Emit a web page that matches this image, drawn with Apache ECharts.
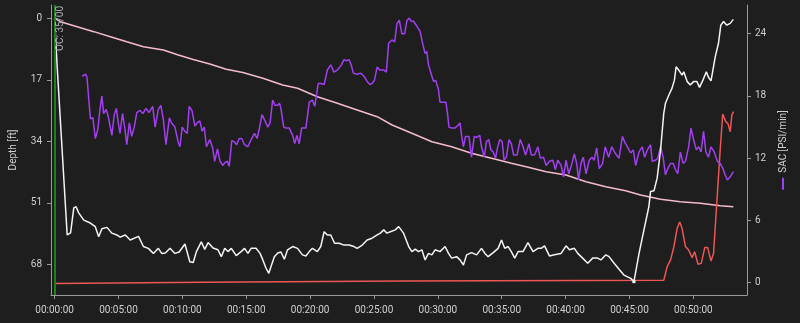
<!DOCTYPE html>
<html>
<head>
<meta charset="utf-8">
<script src="https://cdn.jsdelivr.net/npm/echarts@6/dist/echarts.min.js"></script>
<style>
html,body{margin:0;padding:0;background:#1e1e1e;}
#chart{width:800px;height:323px;}
</style>
</head>
<body>
<div id="chart"></div>
<script>
// ---- data (time in seconds) ----
const timeTicks = [0, 300, 600, 900, 1200, 1500, 1800, 2100, 2400, 2700, 3000];
const depthTicks = [0, 17, 34, 51, 68];
const sacTicks = [0, 6, 12, 18, 24];
const depthName = 'Depth [ft]';
const sacName = 'SAC [PSI/min]';
const eventTime = 0;
const eventLabel = 'OC: 35/00';

// depth profile [time s, depth ft]
const depthProfile = [[0,0.0],[12,13.4],[59,59.9],[75,59.3],[90,52.4],[101,52.1],[113,53.8],[137,55.8],[168,56.6],[191,57.6],[207,60.4],[222,58.2],[246,57.8],[269,59.4],[292,59.9],[308,60.5],[332,59.9],[355,61.3],[394,60.3],[417,63.1],[440,63.6],[464,65.0],[487,63.6],[503,65.0],[520,64.9],[542,63.6],[565,65.0],[585,64.6],[612,62.4],[635,67.3],[651,67.5],[666,64.5],[689,61.8],[705,63.9],[721,62.0],[744,63.5],[767,64.0],[783,65.9],[799,63.6],[814,64.5],[830,63.6],[853,65.6],[876,64.5],[892,63.6],[908,65.0],[923,63.6],[946,63.6],[965,65.0],[978,66.8],[993,69.1],[1006,70.5],[1016,68.7],[1032,65.9],[1048,64.9],[1063,64.6],[1079,66.6],[1094,64.0],[1118,63.1],[1141,63.6],[1164,65.4],[1180,65.7],[1196,64.5],[1211,63.6],[1234,64.5],[1250,63.1],[1266,59.0],[1281,59.9],[1297,59.9],[1315,62.2],[1336,62.2],[1359,62.7],[1383,62.7],[1406,63.1],[1421,63.6],[1445,62.7],[1468,61.3],[1491,60.8],[1515,59.9],[1530,59.4],[1546,58.5],[1561,59.4],[1577,59.0],[1600,58.5],[1616,57.6],[1639,59.4],[1663,63.1],[1678,64.5],[1694,63.8],[1709,64.5],[1725,64.0],[1740,66.8],[1756,65.0],[1772,65.4],[1787,64.0],[1810,64.5],[1834,63.1],[1850,65.0],[1865,66.3],[1888,65.9],[1904,66.8],[1920,68.2],[1935,65.4],[1958,64.8],[1982,65.4],[2005,63.6],[2021,65.0],[2036,65.9],[2060,64.8],[2083,63.6],[2099,61.3],[2114,63.6],[2130,63.1],[2145,64.5],[2161,66.3],[2177,64.5],[2200,64.5],[2223,62.0],[2247,64.5],[2270,63.6],[2285,63.6],[2301,62.9],[2324,65.7],[2347,65.4],[2379,65.0],[2402,62.9],[2418,64.0],[2441,63.6],[2457,65.0],[2480,66.3],[2504,67.7],[2527,66.3],[2550,66.3],[2566,66.8],[2589,65.4],[2604,65.9],[2628,67.7],[2651,69.4],[2674,71.0],[2706,71.9],[2721,72.8],[2745,65.0],[2768,58.5],[2791,52.1],[2799,47.9],[2815,47.7],[2830,44.2],[2846,36.4],[2861,26.3],[2869,23.5],[2885,21.2],[2900,19.3],[2911,17.1],[2919,13.4],[2931,14.3],[2947,15.7],[2955,14.8],[2971,17.5],[2986,18.4],[3001,17.5],[3017,17.5],[3029,19.1],[3045,17.1],[3061,14.8],[3071,16.3],[3083,17.3],[3103,10.6],[3118,6.9],[3129,1.9],[3142,0.9],[3157,1.9],[3173,1.4],[3188,0.3]];

// tank pressure [time s, PSI] (hidden scale)
const pressure = [[0,3000],[28,2963],[106,2909],[184,2855],[262,2800],[339,2746],[417,2692],[511,2656],[581,2602],[651,2553],[729,2505],[806,2447],[884,2412],[978,2349],[1071,2277],[1141,2241],[1234,2150],[1328,2078],[1421,2006],[1515,1933],[1585,1843],[1678,1753],[1772,1662],[1865,1608],[1958,1536],[2052,1482],[2145,1428],[2215,1391],[2309,1337],[2402,1301],[2496,1228],[2589,1174],[2682,1131],[2752,1084],[2846,1038],[2939,1012],[3033,994],[3126,968],[3188,957]];

// secondary red trace [time s, value] (hidden scale 0-100)
const secondary = [[0,4.0],[697,4.4],[1631,4.8],[2861,5.1],[2877,9.8],[2893,12.1],[2908,16.4],[2924,23.0],[2936,25.2],[2947,23.0],[2963,16.7],[2978,15.5],[2994,12.9],[3006,14.9],[3022,10.6],[3037,10.9],[3054,16.4],[3067,16.4],[3083,11.7],[3095,14.4],[3111,32.8],[3126,50.0],[3138,62.4],[3152,59.8],[3163,59.0],[3173,56.3],[3181,62.1],[3189,63.2]];

// SAC [time s, PSI/min]
const sac = [[129,19.9],[145,20.1],[152,19.8],[168,15.8],[180,15.9],[191,13.9],[203,14.8],[213,16.7],[222,18.0],[230,16.3],[242,16.7],[251,16.1],[269,14.2],[280,16.2],[290,16.8],[299,15.4],[307,14.4],[319,16.3],[329,15.0],[339,13.3],[351,15.4],[362,14.1],[374,15.0],[386,16.4],[401,16.6],[415,16.3],[429,16.8],[443,16.4],[461,17.0],[472,15.0],[487,16.7],[499,17.1],[511,15.7],[523,13.3],[539,15.9],[549,15.4],[565,15.0],[581,13.5],[589,13.1],[599,15.0],[611,14.6],[623,14.4],[632,17.0],[645,16.6],[659,15.1],[669,15.4],[682,15.6],[693,14.6],[703,15.0],[713,13.1],[729,13.8],[742,13.0],[752,11.7],[765,12.9],[777,11.7],[791,11.3],[800,11.6],[812,11.7],[820,11.2],[832,13.7],[843,13.6],[855,13.3],[867,13.9],[879,13.9],[892,13.3],[908,13.1],[923,13.8],[939,14.4],[951,13.9],[962,14.9],[974,16.2],[986,15.7],[1001,15.0],[1012,15.4],[1024,17.6],[1035,17.1],[1048,17.1],[1056,17.3],[1063,16.8],[1076,15.0],[1086,14.9],[1102,14.9],[1118,14.2],[1128,13.4],[1138,14.2],[1149,13.4],[1160,14.9],[1180,14.9],[1196,17.4],[1211,17.6],[1222,17.0],[1238,19.2],[1250,19.2],[1266,19.1],[1281,20.5],[1297,21.0],[1312,20.3],[1328,20.5],[1347,21.0],[1359,21.5],[1371,21.4],[1383,21.5],[1393,21.0],[1403,20.2],[1421,20.1],[1437,20.2],[1453,19.9],[1468,19.4],[1481,19.1],[1491,19.2],[1502,19.5],[1515,20.8],[1527,20.5],[1546,20.5],[1558,20.3],[1569,23.1],[1585,23.4],[1597,23.2],[1608,25.0],[1619,25.3],[1631,24.0],[1644,24.0],[1655,25.3],[1666,25.5],[1675,25.2],[1686,25.2],[1702,24.7],[1717,24.2],[1728,23.1],[1740,22.1],[1748,22.3],[1756,21.0],[1772,19.9],[1780,19.4],[1790,19.5],[1803,18.6],[1810,17.4],[1822,17.4],[1831,17.3],[1838,17.4],[1846,16.2],[1852,15.0],[1865,14.9],[1880,14.9],[1896,15.2],[1904,15.4],[1912,14.1],[1920,13.1],[1930,14.1],[1946,14.1],[1958,12.1],[1971,14.1],[1982,14.0],[1997,14.2],[2005,13.1],[2018,12.1],[2028,13.6],[2039,13.8],[2049,12.8],[2060,12.6],[2071,12.0],[2080,13.0],[2091,13.8],[2102,13.6],[2111,11.8],[2122,12.1],[2134,13.8],[2145,13.4],[2156,12.3],[2172,12.3],[2187,13.8],[2200,13.1],[2212,12.3],[2228,13.4],[2239,12.3],[2254,12.3],[2270,13.1],[2281,12.0],[2296,12.1],[2309,11.3],[2324,11.7],[2340,11.8],[2352,10.9],[2363,11.8],[2379,11.3],[2390,10.2],[2402,11.8],[2415,10.5],[2430,11.5],[2441,12.4],[2452,11.5],[2461,9.9],[2472,11.5],[2483,12.1],[2496,10.5],[2511,11.8],[2524,12.1],[2534,11.8],[2546,13.0],[2558,11.0],[2574,11.5],[2586,13.1],[2602,12.1],[2617,13.1],[2632,12.5],[2651,12.0],[2667,14.1],[2679,13.5],[2693,13.0],[2706,12.5],[2718,12.8],[2729,11.3],[2745,12.6],[2760,13.1],[2771,12.1],[2784,12.8],[2799,13.3],[2807,11.7],[2822,11.8],[2833,12.0],[2846,13.1],[2858,12.1],[2869,10.4],[2880,11.0],[2893,11.5],[2905,11.5],[2916,10.9],[2927,10.5],[2939,12.6],[2952,11.5],[2963,11.7],[2978,13.1],[2989,14.9],[3001,13.8],[3014,12.8],[3025,13.1],[3036,12.6],[3048,14.6],[3059,12.6],[3071,12.1],[3083,13.1],[3098,12.6],[3113,11.7],[3126,11.5],[3139,11.0],[3149,10.4],[3160,9.9],[3173,10.2],[3188,10.7]];

// ---- chart ----
const FONT = 'Roboto';
const AXIS_COLOR = '#9a9a9a';
const LABEL_COLOR = '#d0d0d0';
const SAC_COLOR = '#a23ff2';

function hms(v) {
  const s = Math.round(v);
  const h = Math.floor(s / 3600), m = Math.floor((s % 3600) / 60), ss = s % 60;
  const p = n => String(n).padStart(2, '0');
  return p(h) + ':' + p(m) + ':' + p(ss);
}

// mark deepest point
let maxIdx = 0;
depthProfile.forEach((d, i) => { if (d[1] > depthProfile[maxIdx][1]) maxIdx = i; });
const depthData = depthProfile.map((d, i) => i === maxIdx
  ? { value: d, symbol: 'rect', symbolSize: 3, itemStyle: { color: '#ffffff' } }
  : { value: d });

const chart = echarts.init(document.getElementById('chart'), null, { renderer: 'canvas' });
chart.setOption({
  backgroundColor: '#1e1e1e',
  animation: false,
  textStyle: { fontFamily: FONT },
  grid: { left: 47, right: 53, top: 5, bottom: 28, containLabel: false },
  xAxis: {
    type: 'value', min: -17, max: 3252,
    axisLine: { show: true, onZero: false, lineStyle: { color: AXIS_COLOR, width: 1 } },
    axisTick: { show: true, length: 4, customValues: timeTicks, lineStyle: { color: AXIS_COLOR } },
    axisLabel: { customValues: timeTicks, formatter: hms, color: LABEL_COLOR, fontSize: 10, margin: 10, fontFamily: FONT },
    splitLine: { show: false }
  },
  yAxis: [
    {
      type: 'value', inverse: true, min: -3.68, max: 76.5, position: 'left',
      name: depthName, nameLocation: 'middle', nameGap: 33, nameRotate: 90,
      nameTextStyle: { color: LABEL_COLOR, fontSize: 10, fontFamily: FONT },
      axisLine: { show: true, onZero: false, lineStyle: { color: AXIS_COLOR } },
      axisTick: { show: true, length: 4, customValues: depthTicks, lineStyle: { color: AXIS_COLOR } },
      axisLabel: { customValues: depthTicks, color: LABEL_COLOR, fontSize: 10, margin: 9, fontFamily: FONT },
      splitLine: { show: false }
    },
    {
      type: 'value', min: -1.19, max: 26.77, position: 'right',
      name: '{bar|}  ' + sacName, nameLocation: 'middle', nameGap: 31, nameRotate: 90,
      nameTextStyle: {
        color: LABEL_COLOR, fontSize: 10, fontFamily: FONT,
        rich: { bar: { backgroundColor: SAC_COLOR, width: 12, height: 2 } }
      },
      axisLine: { show: true, onZero: false, lineStyle: { color: AXIS_COLOR } },
      axisTick: { show: true, length: 4, customValues: sacTicks, lineStyle: { color: AXIS_COLOR } },
      axisLabel: { customValues: sacTicks, color: LABEL_COLOR, fontSize: 10, margin: 8, fontFamily: FONT },
      splitLine: { show: false }
    },
    { type: 'value', show: false, min: 0, max: 3144 },
    { type: 'value', show: false, min: 0, max: 100 }
  ],
  series: [
    {
      name: 'Pressure', type: 'line', yAxisIndex: 2, data: pressure,
      showSymbol: false, symbol: 'none', silent: true,
      lineStyle: { color: '#f2bcc8', width: 1.5 }
    },
    {
      name: 'Secondary', type: 'line', yAxisIndex: 3, data: secondary,
      showSymbol: false, symbol: 'none', silent: true,
      lineStyle: { color: '#ee5555', width: 1.5 }
    },
    {
      name: sacName, type: 'line', yAxisIndex: 1, data: sac,
      showSymbol: false, symbol: 'none', silent: true,
      lineStyle: { color: SAC_COLOR, width: 1.5 },
      markLine: {
        silent: true, symbol: ['none', 'none'], animation: false,
        lineStyle: { color: '#188418', width: 2, type: 'solid', opacity: 1 },
        label: { show: true, formatter: eventLabel, position: 'insideEndBottom', color: '#b0b0b0', fontSize: 10, fontFamily: FONT, distance: 1 },
        data: [{ xAxis: eventTime }]
      }
    },
    {
      name: 'Depth', type: 'line', yAxisIndex: 0, data: depthData,
      showSymbol: true, symbol: 'none', silent: true,
      lineStyle: { color: '#f4f4f4', width: 1.5 }
    }
  ]
});
</script>
</body>
</html>
